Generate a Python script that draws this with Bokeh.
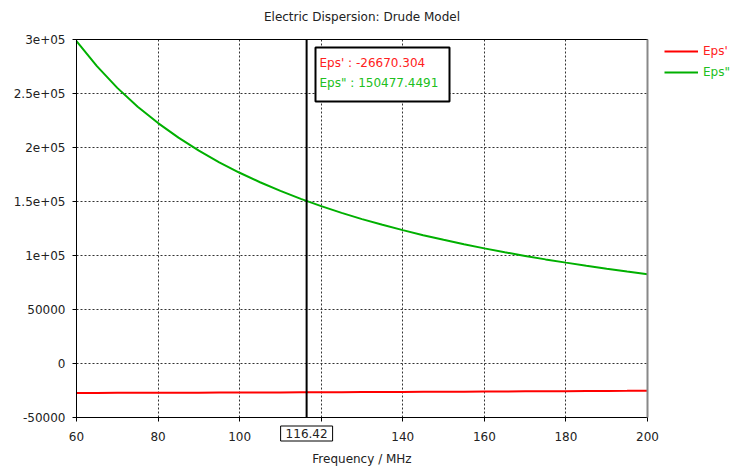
from bokeh.plotting import figure
from bokeh.models import (Label, BoxAnnotation, Legend, LegendItem,
                          FixedTicker, Range1d, LinearAxis, Grid)
from bokeh.embed import file_html
from bokeh.resources import INLINE

# ---- data ----
freq_mhz = [60, 65, 70, 75, 80, 85, 90, 95, 100, 105, 110, 115, 120, 125, 130,
            135, 140, 145, 150, 155, 160, 165, 170, 175, 180, 185, 190, 195, 200]
eps_real = [-27280, -27241, -27199, -27154, -27106, -27055, -27001, -26944,
            -26885, -26822, -26757, -26690, -26619, -26547, -26471, -26393,
            -26312, -26230, -26144, -26057, -25967, -25875, -25781, -25685,
            -25586, -25486, -25384, -25280, -25174]
eps_imag = [298600, 275300, 255200, 237800, 222600, 209100, 197100, 186300,
            176600, 167800, 159800, 152400, 145700, 139500, 133700, 128400,
            123500, 118800, 114500, 110400, 106600, 103000, 99600, 96400,
            93400, 90500, 87800, 85200, 82700]
x_ticks = [60, 80, 100, 120, 140, 160, 180, 200]
y_ticks = [-50000, 0, 50000, 100000, 150000, 200000, 250000, 300000]
y_tick_labels = {-50000: "-50000", 0: "0", 50000: "50000", 100000: "1e+05",
                 150000: "1.5e+05", 200000: "2e+05", 250000: "2.5e+05",
                 300000: "3e+05"}
series_names = ["Eps'", 'Eps"']
cursor_freq = 116.42
cursor_real_text = "Eps' : -26670.304"
cursor_imag_text = 'Eps" : 150477.4491'
title_text = "Electric Dispersion: Drude Model"
x_label = "Frequency / MHz"

# ---- layout (pixels) ----
W, H = 736, 474
PX_L, PX_R, PX_T, PX_B = 76, 647, 39, 417
X0, X1 = x_ticks[0], x_ticks[-1]
Y0, Y1 = y_ticks[0], y_ticks[-1]
xs = (X1 - X0) / (PX_R - PX_L)     # data units per pixel
ys = (Y1 - Y0) / (PX_B - PX_T)


def px_x(px):
    return X0 + (px - PX_L) * xs


def px_y(py):
    return Y1 - (py - PX_T) * ys


FONT = "DejaVu Sans"
TXT = "#222222"
RED = "#ff0000"
GREEN = "#00b000"

p = figure(width=W, height=H, output_backend="svg", toolbar_location=None,
           x_axis_location=None, y_axis_location=None,
           x_range=Range1d(px_x(0), px_x(W)), y_range=Range1d(px_y(H), px_y(0)))
p.min_border = 0
p.min_border_left = 0
p.min_border_right = 0
p.min_border_top = 0
p.min_border_bottom = 0
p.outline_line_color = None
p.background_fill_color = "white"
p.border_fill_color = "white"

# drop the default full-canvas grids
p.center = [r for r in p.center if not isinstance(r, Grid)]

# grids limited to the plot area
p.add_layout(Grid(dimension=0, ticker=FixedTicker(ticks=x_ticks),
                  bounds=(X0, X1), cross_bounds=(Y0, Y1),
                  grid_line_color="#333333", grid_line_dash="2 2"))
p.add_layout(Grid(dimension=1, ticker=FixedTicker(ticks=y_ticks),
                  bounds=(Y0, Y1), cross_bounds=(X0, X1),
                  grid_line_color="#333333", grid_line_dash="2 2"))

xaxis = LinearAxis(fixed_location=Y0, bounds=(X0, X1),
                   ticker=FixedTicker(ticks=x_ticks))
yaxis = LinearAxis(fixed_location=X0, bounds=(Y0, Y1),
                   ticker=FixedTicker(ticks=y_ticks))
yaxis.major_label_overrides = y_tick_labels
for ax in (xaxis, yaxis):
    ax.axis_line_color = "black"
    ax.major_tick_line_color = "black"
    ax.major_tick_out = 4
    ax.major_tick_in = 0
    ax.minor_tick_line_color = None
    ax.major_label_text_font = FONT
    ax.major_label_text_font_size = "12px"
    ax.major_label_text_color = TXT
xaxis.major_label_standoff = 10
yaxis.major_label_standoff = 7
xaxis.axis_label = x_label
xaxis.axis_label_text_font = FONT
xaxis.axis_label_text_font_size = "12px"
xaxis.axis_label_text_font_style = "normal"
xaxis.axis_label_text_color = TXT
xaxis.axis_label_standoff = 8
p.add_layout(xaxis, "below")
p.add_layout(yaxis, "left")

# frame borders: top black, right grey
p.add_layout(BoxAnnotation(left=X0, right=X1, bottom=Y0, top=Y1,
                           fill_alpha=0, line_color="black", line_alpha=1,
                           line_width=1, level="underlay"))
p.add_layout(BoxAnnotation(left=X1, right=X1, bottom=Y0, top=Y1,
                           fill_alpha=0, line_color="#888888", line_alpha=1,
                           line_width=2))

r_real = p.line(freq_mhz, eps_real, line_color=RED, line_width=2)
r_imag = p.line(freq_mhz, eps_imag, line_color=GREEN, line_width=2)

# cursor line
p.add_layout(BoxAnnotation(left=cursor_freq, right=cursor_freq, bottom=Y0,
                           top=Y1, fill_alpha=0, line_color="black",
                           line_alpha=1, line_width=2))

# title
p.add_layout(Label(x=px_x(361.5), y=px_y(16), text=title_text,
                   text_align="center", text_baseline="middle",
                   text_font=FONT, text_font_size="12px", text_color=TXT))

# readout box
p.add_layout(BoxAnnotation(left=px_x(315), right=px_x(449), top=px_y(47),
                           bottom=px_y(101), fill_color="white", fill_alpha=1,
                           line_color="black", line_width=2, line_alpha=1))
p.add_layout(Label(x=px_x(319), y=px_y(62.5), text=cursor_real_text,
                   text_color="#ff2020", text_font=FONT,
                   text_font_size="12px", text_baseline="middle"))
p.add_layout(Label(x=px_x(319), y=px_y(82.5), text=cursor_imag_text,
                   text_color="#20c020", text_font=FONT,
                   text_font_size="12px", text_baseline="middle"))

# cursor value box under the axis
p.add_layout(Label(x=cursor_freq, y=px_y(433), text=f"{cursor_freq:.2f}",
                   text_align="center", text_baseline="middle",
                   text_font=FONT, text_font_size="12px", text_color=TXT,
                   background_fill_color="white", background_fill_alpha=1,
                   border_line_color="black", border_line_width=1,
                   border_line_alpha=1, padding=dict(x=5, y=3)))

# legend: one legend per series so that each label keeps its colour
for name, rend, col, row_py in ((series_names[0], r_real, "#ff2020", 51),
                                (series_names[1], r_imag, "#20c020", 72)):
    lg = Legend(items=[LegendItem(label=name, renderers=[rend])],
                location=(664, H - (row_py - 10) - 20),
                border_line_color=None, background_fill_alpha=0,
                padding=0, margin=0, spacing=0,
                glyph_width=34, glyph_height=20, label_height=20,
                label_standoff=5, label_text_font=FONT,
                label_text_font_size="12px", label_text_color=col)
    p.add_layout(lg)

open("out.html", "w").write(file_html(p, INLINE))
